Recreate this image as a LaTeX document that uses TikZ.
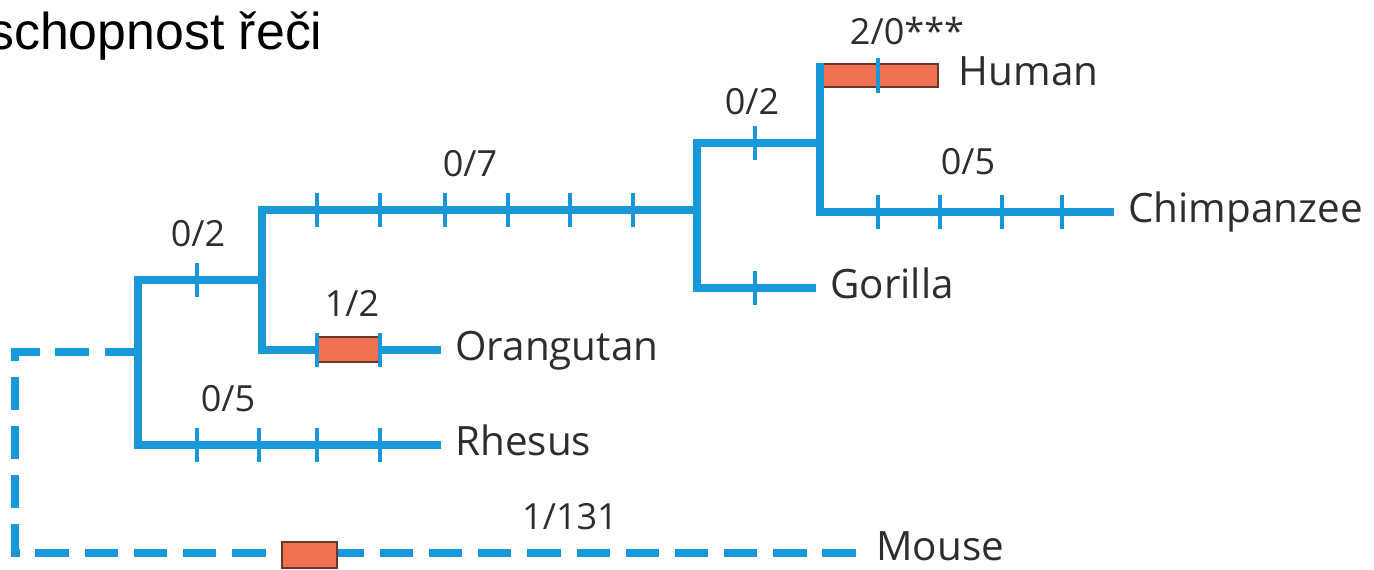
\documentclass[tikz,border=0pt]{standalone}
\usepackage{xcolor}
\usepackage{fontspec}
\setmainfont{Open Sans}
\newfontfamily\titlefont{Liberation Sans}
\usepackage{tikz}
\usetikzlibrary{positioning}

\definecolor{branchblue}{RGB}{24,152,216}
\definecolor{mutred}{RGB}{240,112,82}
\definecolor{mutedge}{RGB}{105,55,40}
\definecolor{labelgray}{RGB}{45,45,45}

\begin{document}
\begin{tikzpicture}[
    x=0.02cm, y=-0.02cm,
    br/.style={draw=branchblue, line width=4pt},
    dbr/.style={br, dash pattern=on 19pt off 9pt},
    tick/.style={draw=branchblue, line width=2.8pt},
    mut/.style={draw=mutedge, fill=mutred, line width=0.6pt, inner sep=0pt},
    lbl/.style={font=\fontsize{23}{27}\selectfont, text=labelgray, inner xsep=8pt, inner ysep=0pt, text height=11.4pt, text depth=0pt, anchor=west},
    num/.style={font=\fontsize{20.5}{24}\selectfont, text=labelgray, inner sep=0pt, anchor=base}
  ]
    \useasboundingbox (0,0) rectangle (1374,570);

    % title
    \node[font=\titlefont\fontsize{29.5}{34}\selectfont, inner sep=0pt, anchor=base west] (title) at (-12,50) {schopnost řeči};

    % junctions
    \coordinate (root) at (138,352);
    \coordinate (apes) at (262,280);
    \coordinate (afr) at (697,210);
    \coordinate (hom) at (820,143);
    \coordinate (mcorner) at (15,553);

    % species
    \node[lbl] (rhesus) at (441,445) {Rhesus};
    \node[lbl] (orang) at (441,350) {Orangutan};
    \node[lbl] (gorilla) at (816,288) {Gorilla};
    \node[lbl] (chimp) at (1114,212) {Chimpanzee};
    \node[lbl, text height=8pt] (mouse) at (862,553) {Mouse};
    \node[mut, minimum width=2.3cm, minimum height=0.46cm] (humbox) at (880.5,75.5) {};
    \node[lbl, right=0.12cm of humbox] (human) {Human};

    % branches
    \draw[dbr] (root) -| (mcorner) -- (mouse.west);
    \draw[br] (rhesus.west) -| (root) |- (apes);
    \draw[br] (orang.west) -| (apes) |- (afr);
    \draw[br] (gorilla.west) -| (afr) |- (hom);
    \draw[br] (chimp.west) -| (hom) -- (hom |- humbox.north);

    % changes
    \node[mut, minimum width=1.24cm, minimum height=0.5cm] (orabox) at (349,349.5) {};
    \node[mut, minimum width=1.1cm, minimum height=0.52cm] (mbox) at (309.5,555) {};

    \foreach \x in {197,259,317,380} \draw[tick] (\x,428) -- (\x,462);
    \draw[tick] (197,263) -- (197,297);
    \foreach \x in {317,380} \draw[tick] (\x,333) -- (\x,367);
    \foreach \x in {317,380,445,508,570,633} \draw[tick] (\x,193) -- (\x,227);
    \draw[tick] (755,126) -- (755,160);
    \draw[tick] (755,271) -- (755,305);
    \foreach \x in {878,940,1002,1062} \draw[tick] (\x,195) -- (\x,229);
    \draw[tick] (878,58) -- (878,93);

    % counts
    \node[num] (cRh) at (228,412) {0/5};
    \node[num] (cAp) at (198,247) {0/2};
    \node[num] (cOr) at (352,317) {1/2};
    \node[num] (cAf) at (470,177) {0/7};
    \node[num] (cHo) at (752,115) {0/2};
    \node[num] (cCh) at (968,175) {0/5};
    \node[num] (cHu) at (907,45) {2/0***};
    \node[num] (cMo) at (570,530) {1/131};
  \end{tikzpicture}
\end{document}
